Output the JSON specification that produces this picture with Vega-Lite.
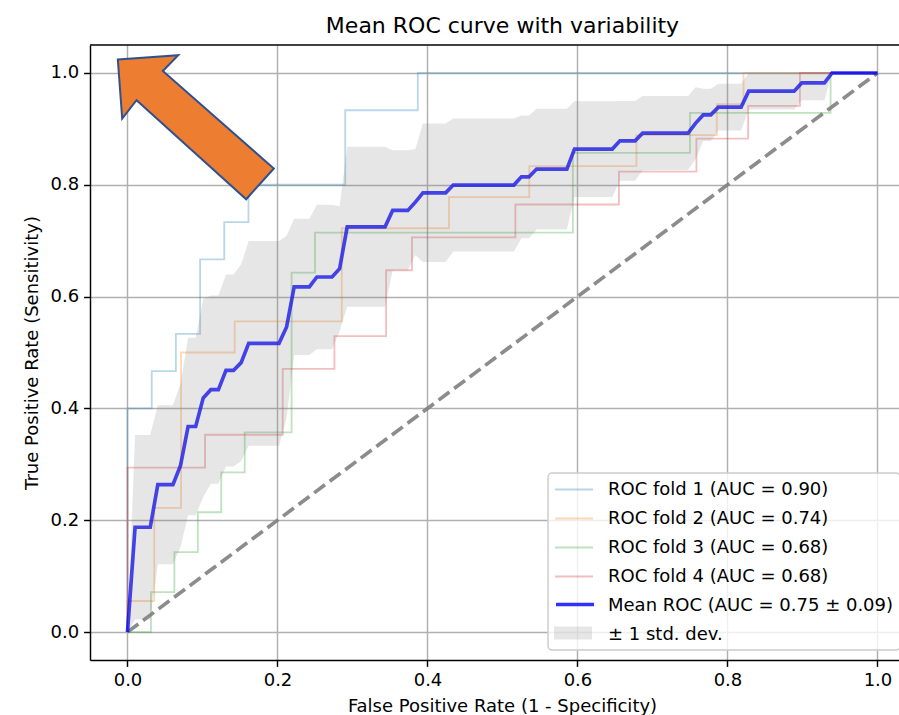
{
  "$schema": "https://vega.github.io/schema/vega-lite/v6.json",
  "width": 809,
  "height": 615,
  "autosize": {"type": "none"},
  "padding": {"left": 90, "top": 45, "right": 0, "bottom": 55},
  "background": "white",
  "title": {"text": "Mean ROC curve with variability", "fontSize": 22, "fontWeight": "normal", "color": "black", "font": "DejaVu Sans", "anchor": "middle", "dx": 8, "dy": 21.5, "offset": 11, "baseline": "alphabetic"},
  "datasets": {
    "folds": [
      {"series": "ROC fold 1 (AUC = 0.90)", "i": 0, "fpr": 0, "tpr": 0},
      {"series": "ROC fold 1 (AUC = 0.90)", "i": 1, "fpr": 0, "tpr": 0.4},
      {"series": "ROC fold 1 (AUC = 0.90)", "i": 2, "fpr": 0.0323, "tpr": 0.4},
      {"series": "ROC fold 1 (AUC = 0.90)", "i": 3, "fpr": 0.0323, "tpr": 0.4667},
      {"series": "ROC fold 1 (AUC = 0.90)", "i": 4, "fpr": 0.0645, "tpr": 0.4667},
      {"series": "ROC fold 1 (AUC = 0.90)", "i": 5, "fpr": 0.0645, "tpr": 0.5333},
      {"series": "ROC fold 1 (AUC = 0.90)", "i": 6, "fpr": 0.0968, "tpr": 0.5333},
      {"series": "ROC fold 1 (AUC = 0.90)", "i": 7, "fpr": 0.0968, "tpr": 0.6667},
      {"series": "ROC fold 1 (AUC = 0.90)", "i": 8, "fpr": 0.129, "tpr": 0.6667},
      {"series": "ROC fold 1 (AUC = 0.90)", "i": 9, "fpr": 0.129, "tpr": 0.7333},
      {"series": "ROC fold 1 (AUC = 0.90)", "i": 10, "fpr": 0.1613, "tpr": 0.7333},
      {"series": "ROC fold 1 (AUC = 0.90)", "i": 11, "fpr": 0.1613, "tpr": 0.8},
      {"series": "ROC fold 1 (AUC = 0.90)", "i": 12, "fpr": 0.2903, "tpr": 0.8},
      {"series": "ROC fold 1 (AUC = 0.90)", "i": 13, "fpr": 0.2903, "tpr": 0.9333},
      {"series": "ROC fold 1 (AUC = 0.90)", "i": 14, "fpr": 0.3871, "tpr": 0.9333},
      {"series": "ROC fold 1 (AUC = 0.90)", "i": 15, "fpr": 0.3871, "tpr": 1},
      {"series": "ROC fold 1 (AUC = 0.90)", "i": 16, "fpr": 1, "tpr": 1},
      {"series": "ROC fold 2 (AUC = 0.74)", "i": 0, "fpr": 0, "tpr": 0},
      {"series": "ROC fold 2 (AUC = 0.74)", "i": 1, "fpr": 0, "tpr": 0.0556},
      {"series": "ROC fold 2 (AUC = 0.74)", "i": 2, "fpr": 0.0357, "tpr": 0.0556},
      {"series": "ROC fold 2 (AUC = 0.74)", "i": 3, "fpr": 0.0357, "tpr": 0.2222},
      {"series": "ROC fold 2 (AUC = 0.74)", "i": 4, "fpr": 0.0714, "tpr": 0.2222},
      {"series": "ROC fold 2 (AUC = 0.74)", "i": 5, "fpr": 0.0714, "tpr": 0.5},
      {"series": "ROC fold 2 (AUC = 0.74)", "i": 6, "fpr": 0.1429, "tpr": 0.5},
      {"series": "ROC fold 2 (AUC = 0.74)", "i": 7, "fpr": 0.1429, "tpr": 0.5556},
      {"series": "ROC fold 2 (AUC = 0.74)", "i": 8, "fpr": 0.2857, "tpr": 0.5556},
      {"series": "ROC fold 2 (AUC = 0.74)", "i": 9, "fpr": 0.2857, "tpr": 0.7222},
      {"series": "ROC fold 2 (AUC = 0.74)", "i": 10, "fpr": 0.4286, "tpr": 0.7222},
      {"series": "ROC fold 2 (AUC = 0.74)", "i": 11, "fpr": 0.4286, "tpr": 0.7778},
      {"series": "ROC fold 2 (AUC = 0.74)", "i": 12, "fpr": 0.5357, "tpr": 0.7778},
      {"series": "ROC fold 2 (AUC = 0.74)", "i": 13, "fpr": 0.5357, "tpr": 0.8333},
      {"series": "ROC fold 2 (AUC = 0.74)", "i": 14, "fpr": 0.6786, "tpr": 0.8333},
      {"series": "ROC fold 2 (AUC = 0.74)", "i": 15, "fpr": 0.6786, "tpr": 0.8889},
      {"series": "ROC fold 2 (AUC = 0.74)", "i": 16, "fpr": 0.7857, "tpr": 0.8889},
      {"series": "ROC fold 2 (AUC = 0.74)", "i": 17, "fpr": 0.7857, "tpr": 0.9444},
      {"series": "ROC fold 2 (AUC = 0.74)", "i": 18, "fpr": 0.8214, "tpr": 0.9444},
      {"series": "ROC fold 2 (AUC = 0.74)", "i": 19, "fpr": 0.8214, "tpr": 1},
      {"series": "ROC fold 2 (AUC = 0.74)", "i": 20, "fpr": 1, "tpr": 1},
      {"series": "ROC fold 3 (AUC = 0.68)", "i": 0, "fpr": 0, "tpr": 0},
      {"series": "ROC fold 3 (AUC = 0.68)", "i": 1, "fpr": 0.0313, "tpr": 0},
      {"series": "ROC fold 3 (AUC = 0.68)", "i": 2, "fpr": 0.0313, "tpr": 0.0714},
      {"series": "ROC fold 3 (AUC = 0.68)", "i": 3, "fpr": 0.0625, "tpr": 0.0714},
      {"series": "ROC fold 3 (AUC = 0.68)", "i": 4, "fpr": 0.0625, "tpr": 0.1429},
      {"series": "ROC fold 3 (AUC = 0.68)", "i": 5, "fpr": 0.0938, "tpr": 0.1429},
      {"series": "ROC fold 3 (AUC = 0.68)", "i": 6, "fpr": 0.0938, "tpr": 0.2143},
      {"series": "ROC fold 3 (AUC = 0.68)", "i": 7, "fpr": 0.125, "tpr": 0.2143},
      {"series": "ROC fold 3 (AUC = 0.68)", "i": 8, "fpr": 0.125, "tpr": 0.2857},
      {"series": "ROC fold 3 (AUC = 0.68)", "i": 9, "fpr": 0.1563, "tpr": 0.2857},
      {"series": "ROC fold 3 (AUC = 0.68)", "i": 10, "fpr": 0.1563, "tpr": 0.3571},
      {"series": "ROC fold 3 (AUC = 0.68)", "i": 11, "fpr": 0.2188, "tpr": 0.3571},
      {"series": "ROC fold 3 (AUC = 0.68)", "i": 12, "fpr": 0.2188, "tpr": 0.6429},
      {"series": "ROC fold 3 (AUC = 0.68)", "i": 13, "fpr": 0.25, "tpr": 0.6429},
      {"series": "ROC fold 3 (AUC = 0.68)", "i": 14, "fpr": 0.25, "tpr": 0.7143},
      {"series": "ROC fold 3 (AUC = 0.68)", "i": 15, "fpr": 0.5938, "tpr": 0.7143},
      {"series": "ROC fold 3 (AUC = 0.68)", "i": 16, "fpr": 0.5938, "tpr": 0.8571},
      {"series": "ROC fold 3 (AUC = 0.68)", "i": 17, "fpr": 0.75, "tpr": 0.8571},
      {"series": "ROC fold 3 (AUC = 0.68)", "i": 18, "fpr": 0.75, "tpr": 0.9286},
      {"series": "ROC fold 3 (AUC = 0.68)", "i": 19, "fpr": 0.9375, "tpr": 0.9286},
      {"series": "ROC fold 3 (AUC = 0.68)", "i": 20, "fpr": 0.9375, "tpr": 1},
      {"series": "ROC fold 3 (AUC = 0.68)", "i": 21, "fpr": 1, "tpr": 1},
      {"series": "ROC fold 4 (AUC = 0.68)", "i": 0, "fpr": 0, "tpr": 0},
      {"series": "ROC fold 4 (AUC = 0.68)", "i": 1, "fpr": 0, "tpr": 0.2941},
      {"series": "ROC fold 4 (AUC = 0.68)", "i": 2, "fpr": 0.1034, "tpr": 0.2941},
      {"series": "ROC fold 4 (AUC = 0.68)", "i": 3, "fpr": 0.1034, "tpr": 0.3529},
      {"series": "ROC fold 4 (AUC = 0.68)", "i": 4, "fpr": 0.2069, "tpr": 0.3529},
      {"series": "ROC fold 4 (AUC = 0.68)", "i": 5, "fpr": 0.2069, "tpr": 0.4706},
      {"series": "ROC fold 4 (AUC = 0.68)", "i": 6, "fpr": 0.2759, "tpr": 0.4706},
      {"series": "ROC fold 4 (AUC = 0.68)", "i": 7, "fpr": 0.2759, "tpr": 0.5294},
      {"series": "ROC fold 4 (AUC = 0.68)", "i": 8, "fpr": 0.3448, "tpr": 0.5294},
      {"series": "ROC fold 4 (AUC = 0.68)", "i": 9, "fpr": 0.3448, "tpr": 0.6471},
      {"series": "ROC fold 4 (AUC = 0.68)", "i": 10, "fpr": 0.3793, "tpr": 0.6471},
      {"series": "ROC fold 4 (AUC = 0.68)", "i": 11, "fpr": 0.3793, "tpr": 0.7059},
      {"series": "ROC fold 4 (AUC = 0.68)", "i": 12, "fpr": 0.5172, "tpr": 0.7059},
      {"series": "ROC fold 4 (AUC = 0.68)", "i": 13, "fpr": 0.5172, "tpr": 0.7647},
      {"series": "ROC fold 4 (AUC = 0.68)", "i": 14, "fpr": 0.6552, "tpr": 0.7647},
      {"series": "ROC fold 4 (AUC = 0.68)", "i": 15, "fpr": 0.6552, "tpr": 0.8235},
      {"series": "ROC fold 4 (AUC = 0.68)", "i": 16, "fpr": 0.7586, "tpr": 0.8235},
      {"series": "ROC fold 4 (AUC = 0.68)", "i": 17, "fpr": 0.7586, "tpr": 0.8824},
      {"series": "ROC fold 4 (AUC = 0.68)", "i": 18, "fpr": 0.8276, "tpr": 0.8824},
      {"series": "ROC fold 4 (AUC = 0.68)", "i": 19, "fpr": 0.8276, "tpr": 0.9412},
      {"series": "ROC fold 4 (AUC = 0.68)", "i": 20, "fpr": 0.8966, "tpr": 0.9412},
      {"series": "ROC fold 4 (AUC = 0.68)", "i": 21, "fpr": 0.8966, "tpr": 1},
      {"series": "ROC fold 4 (AUC = 0.68)", "i": 22, "fpr": 1, "tpr": 1}
    ],
    "mean": [
      {"fpr": 0, "tpr": 0, "up": 0, "lo": 0},
      {"fpr": 0.010101, "tpr": 0.1874, "up": 0.3525, "lo": 0.0223},
      {"fpr": 0.030303, "tpr": 0.1874, "up": 0.3525, "lo": 0.0223},
      {"fpr": 0.040404, "tpr": 0.2636, "up": 0.4058, "lo": 0.1214},
      {"fpr": 0.060606, "tpr": 0.2636, "up": 0.4058, "lo": 0.1214},
      {"fpr": 0.070707, "tpr": 0.2981, "up": 0.444, "lo": 0.1522},
      {"fpr": 0.080808, "tpr": 0.3676, "up": 0.5264, "lo": 0.2088},
      {"fpr": 0.090909, "tpr": 0.3676, "up": 0.5264, "lo": 0.2088},
      {"fpr": 0.10101, "tpr": 0.4188, "up": 0.5959, "lo": 0.2417},
      {"fpr": 0.111111, "tpr": 0.4335, "up": 0.6018, "lo": 0.2652},
      {"fpr": 0.121212, "tpr": 0.4335, "up": 0.6018, "lo": 0.2652},
      {"fpr": 0.131313, "tpr": 0.468, "up": 0.6397, "lo": 0.2963},
      {"fpr": 0.141414, "tpr": 0.468, "up": 0.6397, "lo": 0.2963},
      {"fpr": 0.151515, "tpr": 0.4819, "up": 0.6578, "lo": 0.306},
      {"fpr": 0.161616, "tpr": 0.5164, "up": 0.6995, "lo": 0.3333},
      {"fpr": 0.20202, "tpr": 0.5164, "up": 0.6995, "lo": 0.3333},
      {"fpr": 0.212121, "tpr": 0.5458, "up": 0.7086, "lo": 0.383},
      {"fpr": 0.222222, "tpr": 0.6173, "up": 0.7391, "lo": 0.4955},
      {"fpr": 0.242424, "tpr": 0.6173, "up": 0.7391, "lo": 0.4955},
      {"fpr": 0.252525, "tpr": 0.6351, "up": 0.7644, "lo": 0.5058},
      {"fpr": 0.272727, "tpr": 0.6351, "up": 0.7644, "lo": 0.5058},
      {"fpr": 0.282828, "tpr": 0.6498, "up": 0.7617, "lo": 0.5379},
      {"fpr": 0.292929, "tpr": 0.7248, "up": 0.8678, "lo": 0.5818},
      {"fpr": 0.343434, "tpr": 0.7248, "up": 0.8678, "lo": 0.5818},
      {"fpr": 0.353535, "tpr": 0.7542, "up": 0.8616, "lo": 0.6468},
      {"fpr": 0.373737, "tpr": 0.7542, "up": 0.8616, "lo": 0.6468},
      {"fpr": 0.383838, "tpr": 0.7689, "up": 0.864, "lo": 0.6738},
      {"fpr": 0.393939, "tpr": 0.7856, "up": 0.9095, "lo": 0.6617},
      {"fpr": 0.424242, "tpr": 0.7856, "up": 0.9095, "lo": 0.6617},
      {"fpr": 0.434343, "tpr": 0.7995, "up": 0.9185, "lo": 0.6805},
      {"fpr": 0.515152, "tpr": 0.7995, "up": 0.9185, "lo": 0.6805},
      {"fpr": 0.525253, "tpr": 0.8142, "up": 0.9241, "lo": 0.7043},
      {"fpr": 0.535354, "tpr": 0.8142, "up": 0.9241, "lo": 0.7043},
      {"fpr": 0.545455, "tpr": 0.8281, "up": 0.936, "lo": 0.7202},
      {"fpr": 0.585859, "tpr": 0.8281, "up": 0.936, "lo": 0.7202},
      {"fpr": 0.59596, "tpr": 0.8638, "up": 0.9494, "lo": 0.7782},
      {"fpr": 0.646465, "tpr": 0.8638, "up": 0.9494, "lo": 0.7782},
      {"fpr": 0.656566, "tpr": 0.8785, "up": 0.9497, "lo": 0.8073},
      {"fpr": 0.676768, "tpr": 0.8785, "up": 0.9497, "lo": 0.8073},
      {"fpr": 0.686869, "tpr": 0.8924, "up": 0.9587, "lo": 0.8261},
      {"fpr": 0.747475, "tpr": 0.8924, "up": 0.9587, "lo": 0.8261},
      {"fpr": 0.757576, "tpr": 0.9103, "up": 0.9743, "lo": 0.8463},
      {"fpr": 0.767677, "tpr": 0.925, "up": 0.9718, "lo": 0.8782},
      {"fpr": 0.777778, "tpr": 0.925, "up": 0.9718, "lo": 0.8782},
      {"fpr": 0.787879, "tpr": 0.9389, "up": 0.9809, "lo": 0.8969},
      {"fpr": 0.818182, "tpr": 0.9389, "up": 0.9809, "lo": 0.8969},
      {"fpr": 0.828283, "tpr": 0.9675, "up": 1, "lo": 0.9346},
      {"fpr": 0.888889, "tpr": 0.9675, "up": 1, "lo": 0.9346},
      {"fpr": 0.89899, "tpr": 0.9822, "up": 1, "lo": 0.9513},
      {"fpr": 0.929293, "tpr": 0.9822, "up": 1, "lo": 0.9513},
      {"fpr": 0.939394, "tpr": 1, "up": 1, "lo": 1},
      {"fpr": 1, "tpr": 1, "up": 1, "lo": 1}
    ],
    "chance": [{"fpr": 0, "tpr": 0}, {"fpr": 1, "tpr": 1}],
    "arrow": [{"fpr": 0.0911, "tpr": 0.9029}]
  },
  "layer": [
    {
      "data": {"name": "folds"},
      "mark": {"type": "line", "strokeWidth": 1.83, "opacity": 0.3},
      "encoding": {
        "x": {"field": "fpr", "type": "quantitative", "scale": {"domain": [-0.05, 1.0287], "nice": false, "zero": false}, "title": "False Positive Rate (1 - Specificity)", "axis": {"values": [0, 0.2, 0.4, 0.6, 0.8, 1.0], "format": ".1f", "titleX": 412}},
        "y": {"field": "tpr", "type": "quantitative", "scale": {"domain": [-0.05, 1.05], "nice": false, "zero": false}, "title": "True Positive Rate (Sensitivity)", "axis": {"values": [0, 0.2, 0.4, 0.6, 0.8, 1.0], "format": ".1f"}},
        "order": {"field": "i", "type": "quantitative"},
        "color": {
          "field": "series", "type": "nominal",
          "scale": {
            "domain": ["ROC fold 1 (AUC = 0.90)", "ROC fold 2 (AUC = 0.74)", "ROC fold 3 (AUC = 0.68)", "ROC fold 4 (AUC = 0.68)", "Mean ROC (AUC = 0.75 ± 0.09)", "± 1 std. dev."],
            "range": ["#1f77b4", "#ff7f0e", "#2ca02c", "#d62728", "transparent", "transparent"]
          },
          "legend": {
            "title": null, "orient": "none", "legendX": 458, "legendY": 428,
            "symbolType": "M-1,0H3", "symbolSize": 361, "labelOffset": 33,
            "symbolStrokeWidth": 1.83, "symbolOpacity": 0.3
          }
        }
      }
    },
    {
      "data": {"name": "chance"},
      "mark": {"type": "line", "strokeDash": [13.5, 5.9], "strokeWidth": 3.66, "color": "#808080", "opacity": 0.9},
      "encoding": {
        "x": {"field": "fpr", "type": "quantitative", "scale": {"domain": [-0.05, 1.0287], "nice": false, "zero": false}, "title": "False Positive Rate (1 - Specificity)"},
        "y": {"field": "tpr", "type": "quantitative", "scale": {"domain": [-0.05, 1.05], "nice": false, "zero": false}, "title": "True Positive Rate (Sensitivity)"}
      }
    },
    {
      "data": {"name": "mean"},
      "mark": {"type": "line", "strokeWidth": 3.66, "opacity": 0.8},
      "encoding": {
        "x": {"field": "fpr", "type": "quantitative", "scale": {"domain": [-0.05, 1.0287], "nice": false, "zero": false}, "title": "False Positive Rate (1 - Specificity)"},
        "y": {"field": "tpr", "type": "quantitative", "scale": {"domain": [-0.05, 1.05], "nice": false, "zero": false}, "title": "True Positive Rate (Sensitivity)"},
        "stroke": {
          "datum": "Mean ROC (AUC = 0.75 ± 0.09)", "type": "nominal",
          "scale": {"domain": ["Mean ROC (AUC = 0.75 ± 0.09)"], "range": ["#0000ff"]},
          "legend": {
            "title": null, "orient": "none", "legendX": 464, "legendY": 548,
            "symbolType": "M-1,0H3", "symbolSize": 361, "labelExpr": "''",
            "symbolStrokeWidth": 3.66, "symbolOpacity": 0.8,
            "padding": 0, "fillColor": "transparent", "strokeColor": "transparent"
          }
        }
      }
    },
    {
      "data": {"name": "mean"},
      "mark": {"type": "area", "opacity": 0.2},
      "encoding": {
        "x": {"field": "fpr", "type": "quantitative", "scale": {"domain": [-0.05, 1.0287], "nice": false, "zero": false}, "title": "False Positive Rate (1 - Specificity)"},
        "y": {"field": "up", "type": "quantitative", "scale": {"domain": [-0.05, 1.05], "nice": false, "zero": false}, "title": "True Positive Rate (Sensitivity)"},
        "y2": {"field": "lo"},
        "fill": {
          "datum": "± 1 std. dev.", "type": "nominal",
          "scale": {"domain": ["± 1 std. dev."], "range": ["#808080"]},
          "legend": {
            "title": null, "orient": "none", "legendX": 464, "legendY": 578.5,
            "symbolType": "M-1,-0.684H3V0.684H-1Z", "symbolSize": 361, "labelExpr": "''",
            "symbolStrokeWidth": 0, "symbolOpacity": 0.2,
            "padding": 0, "fillColor": "transparent", "strokeColor": "transparent"
          }
        }
      }
    },
    {
      "data": {"name": "arrow"},
      "mark": {"type": "point", "shape": "M-1,-0.868L-0.226,-0.923L-0.423,-0.722L1,0.529L0.646,0.923L-0.76,-0.346L-0.944,-0.112Z", "size": 24336, "filled": true, "fill": "#ED7D31", "stroke": "#2F528F", "strokeWidth": 2, "opacity": 1},
      "encoding": {
        "x": {"field": "fpr", "type": "quantitative", "scale": {"domain": [-0.05, 1.0287], "nice": false, "zero": false}, "title": "False Positive Rate (1 - Specificity)"},
        "y": {"field": "tpr", "type": "quantitative", "scale": {"domain": [-0.05, 1.05], "nice": false, "zero": false}, "title": "True Positive Rate (Sensitivity)"}
      }
    },
    {
      "data": {"values": [{}]},
      "mark": {"type": "rule", "color": "black", "strokeWidth": 1.46},
      "encoding": {"y": {"datum": 1.05, "type": "quantitative", "scale": {"domain": [-0.05, 1.05], "nice": false, "zero": false}}}
    }
  ],
  "config": {
    "font": "DejaVu Sans",
    "view": {"stroke": null},
    "axis": {
      "domainColor": "black", "domainWidth": 1.46,
      "tickColor": "black", "tickWidth": 1.46, "tickSize": 6.4,
      "labelFontSize": 18, "labelColor": "black", "labelFont": "DejaVu Sans", "labelPadding": 5,
      "titleFontSize": 18, "titleFontWeight": "normal", "titleColor": "black", "titleFont": "DejaVu Sans", "titlePadding": 8,
      "grid": true, "gridColor": "#b0b0b0", "gridWidth": 1.46
    },
    "legend": {
      "labelFontSize": 18, "labelColor": "black", "labelFont": "DejaVu Sans", "labelLimit": 600,
      "padding": 6, "fillColor": "rgba(255,255,255,0.8)", "strokeColor": "#cccccc", "strokeWidth": 1.46, "cornerRadius": 4, "rowPadding": 9
    }
  }
}
